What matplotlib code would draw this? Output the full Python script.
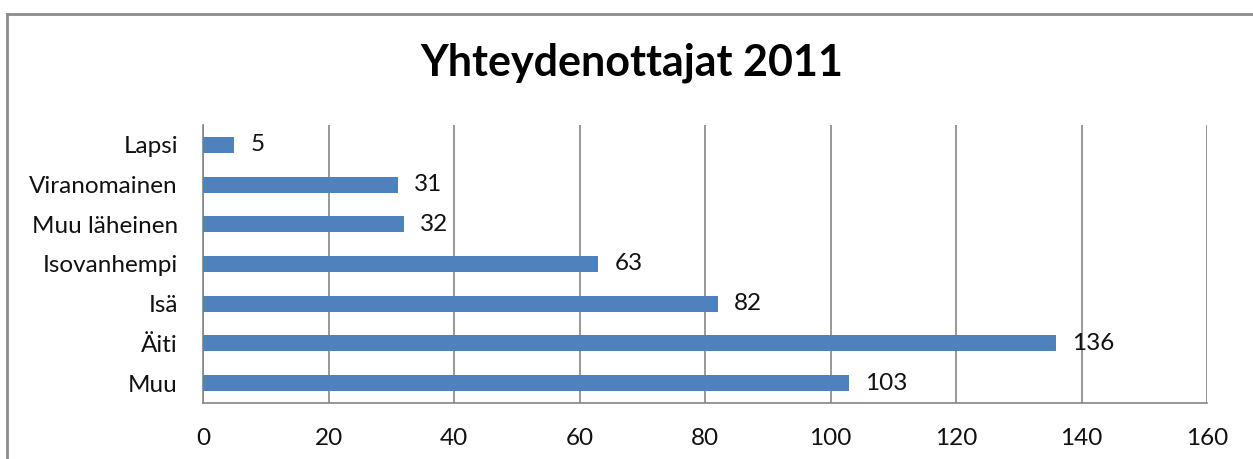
import matplotlib
matplotlib.use("Agg")
import matplotlib.pyplot as plt
from matplotlib.lines import Line2D

plt.rcParams['font.family'] = ['Lato', 'DejaVu Sans']

categories = ['Muu', 'Äiti', 'Isä', 'Isovanhempi', 'Muu läheinen', 'Viranomainen', 'Lapsi']
values = [103, 136, 82, 63, 32, 31, 5]
xticks = [0, 20, 40, 60, 80, 100, 120, 140, 160]

bar_color = '#4F81BD'
grid_color = '#868686'

fig = plt.figure(figsize=(12.53, 4.59), dpi=100)
ax = fig.add_axes([203 / 1253, 56 / 459, 1004 / 1253, 278 / 459])

ypos = range(len(categories))
bars = ax.barh(ypos, values, height=0.4, color=bar_color, zorder=3)

for rect, v in zip(bars, values):
    ax.annotate(str(v), (rect.get_width(), rect.get_y() + rect.get_height() / 2),
                xytext=(11.5, 0), textcoords='offset points',
                ha='left', va='center', fontsize=17.5, color='#111111', zorder=4)

ax.set_xlim(0, 160)
ax.set_ylim(-0.5, len(categories) - 0.5)
ax.set_xticks(xticks)
ax.set_xticklabels([str(t) for t in xticks])
ax.set_yticks(list(ypos))
ax.set_yticklabels(categories)
ax.tick_params(axis='both', length=0, labelsize=17.5, labelcolor='#111111')
ax.tick_params(axis='x', pad=18)
ax.tick_params(axis='y', pad=18)

ax.xaxis.grid(True, color=grid_color, linewidth=1.2, zorder=0)
for s in ['top', 'right']:
    ax.spines[s].set_visible(False)
for s in ['left', 'bottom']:
    ax.spines[s].set_color(grid_color)
    ax.spines[s].set_linewidth(1.2)

fig.text(0.504, 1 - 63 / 459, 'Yhteydenottajat 2011', ha='center', va='center',
         fontsize=31, fontweight='bold', color='black')

# outer chart frame (only top and left edges fall inside the image)
fig.add_artist(Line2D([7 / 1253, 7 / 1253], [0, 1 - 14 / 459], transform=fig.transFigure,
                      color='#8c8c8c', linewidth=2))
fig.add_artist(Line2D([7 / 1253, 1], [1 - 14 / 459, 1 - 14 / 459], transform=fig.transFigure,
                      color='#8c8c8c', linewidth=2))

fig.savefig('out.png', dpi=100)
